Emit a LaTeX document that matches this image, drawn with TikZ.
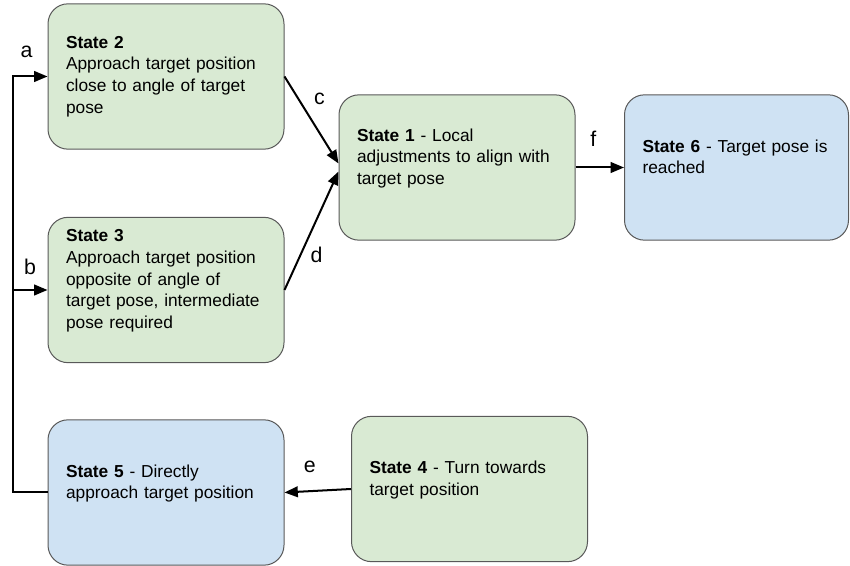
\documentclass[tikz,border=0pt]{standalone}
\usepackage{fontspec}
\setmainfont{Liberation Sans}
\usetikzlibrary{arrows.meta}
\definecolor{stategreen}{HTML}{D9EAD3}
\definecolor{stateblue}{HTML}{CFE2F3}
\definecolor{stateline}{HTML}{595959}
\begin{document}
\begin{tikzpicture}[x=0.75pt, y=-0.75pt,
  state/.style={draw=stateline, line width=0.75pt, rounded corners=15pt, minimum height=109pt,
    inner xsep=13.5pt, text width=150pt, align=left, font=\fontsize{13}{16.3}\selectfont},
  greenbox/.style={state, fill=stategreen},
  bluebox/.style={state, fill=stateblue},
  link/.style={line width=1.5pt, -{Triangle[length=10pt, width=8pt]}},
  lbl/.style={font=\fontsize{16}{19}\selectfont}]
\useasboundingbox (0,0) rectangle (850,566);

\node[greenbox] (s2) at (166,76.5) {\textbf{State 2}\\Approach target position\\close to angle of target\\pose};
\node[greenbox] (s3) at (166,290) {\textbf{State 3}\\Approach target position\\opposite of angle of\\target pose, intermediate\\pose required\\\mbox{}};
\node[greenbox] (s1) at (457,167.5) {\textbf{State 1} - Local\\adjustments to align with\\target pose\\\mbox{}};
\node[bluebox, text width=141pt] (s6) at (736.5,167.5) {\textbf{State 6} - Target pose is\\reached\\\mbox{}};
\node[bluebox] (s5) at (166,492.5) {\textbf{State 5} - Directly\\approach target position\\\mbox{}};
\node[greenbox] (s4) at (469.5,489) {\textbf{State 4} - Turn towards\\target position\\\mbox{}};

\draw[link] (s5.west) -- ++(-35,0) |- node[lbl, pos=0.7, above=10pt] {a} (s2.west);
\draw[link] (s5.west) -- ++(-35,0) |- node[lbl, pos=0.75, above=7.2pt] {b} (s3.west);
\draw[link] (s2.east) -- node[lbl, pos=0.45, anchor=south west, yshift=4pt] {c} ([yshift=3pt]s1.west);
\draw[link] (s3.east) -- node[lbl, pos=0.3, right=3.3pt] {d} ([yshift=-3pt]s1.west);
\draw[link] (s4.west) -- node[lbl, pos=0.62, above=9.7pt] {e} (s5.east);
\draw[link] (s1.east) -- node[lbl, pos=0.37, above=11.5pt] {f} (s6.west);
\end{tikzpicture}
\end{document}
